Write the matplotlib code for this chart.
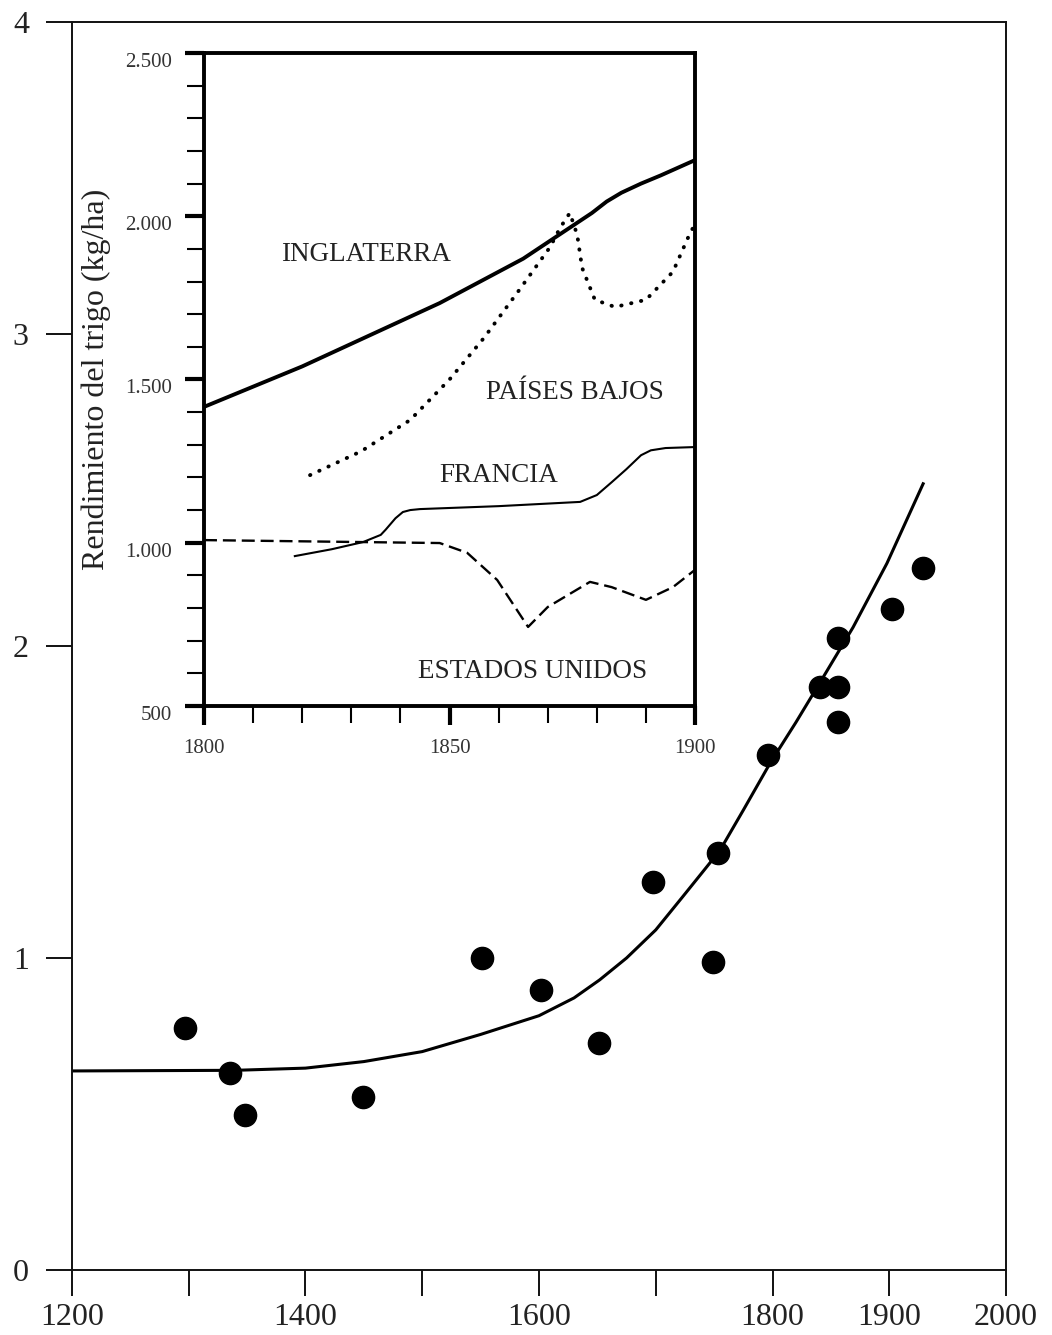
import matplotlib
matplotlib.use("Agg")
import matplotlib.pyplot as plt
import matplotlib.transforms as mtransforms
from matplotlib.ticker import MultipleLocator

plt.rcParams['font.family'] = ['Liberation Serif', 'DejaVu Serif']

# main chart: yield ratio over the centuries
point_years = [1297, 1335, 1348, 1449, 1551, 1602, 1651, 1698, 1749, 1753,
               1796, 1841, 1856, 1856, 1856, 1902, 1929]
point_values = [0.776, 0.631, 0.497, 0.555, 1.0, 0.897, 0.728, 1.244, 0.987, 1.336,
                1.65, 1.87, 1.87, 2.026, 1.756, 2.12, 2.25]
trend_years = [1200, 1340, 1400, 1450, 1500, 1550, 1600, 1630, 1652, 1675,
               1700, 1723, 1740, 1755, 1775, 1798, 1820, 1841, 1869, 1898, 1929]
trend_values = [0.638, 0.640, 0.647, 0.668, 0.70, 0.755, 0.815, 0.872, 0.93, 1.0,
                1.09, 1.196, 1.275, 1.345, 1.474, 1.625, 1.755, 1.885, 2.06, 2.265, 2.52]
main_xticks = [1200, 1300, 1400, 1500, 1600, 1700, 1800, 1900, 2000]
main_xlabels = ['1200', '', '1400', '', '1600', '', '1800', '1900', '2000']

# inset: wheat yield kg/ha 1800-1900
eng_years = [1800, 1820, 1848, 1865, 1879, 1882, 1885, 1889, 1893, 1900]
eng_vals = [1416, 1540, 1734, 1870, 2010, 2045, 2072, 2100, 2125, 2172]
nl_years = [1821.6, 1832, 1842, 1850, 1857, 1864, 1870.5, 1872.5, 1874.5, 1876,
            1877, 1879.6, 1883.7, 1890, 1895.5, 1899, 1900]
nl_vals = [1207, 1280, 1376, 1500, 1627, 1770, 1906, 1964, 2010, 1943,
           1842, 1744, 1722, 1744, 1830, 1949, 1975]
fr_years = [1818.5, 1826, 1832.4, 1836, 1837, 1839, 1840.5, 1842, 1844, 1860,
            1876.6, 1880, 1883, 1886, 1889, 1891, 1894, 1900]
fr_vals = [959, 980, 1002, 1024, 1040, 1075, 1094, 1100, 1103, 1112,
           1125, 1146, 1185, 1225, 1268, 1283, 1290, 1293]
us_years = [1800, 1848, 1853.6, 1859.7, 1866, 1870, 1878.6, 1883, 1890, 1895.5, 1900]
us_vals = [1008, 999, 969, 886, 742, 803, 880, 864, 825, 864, 917]

fig = plt.figure(figsize=(10.52, 13.35), dpi=100)

ax = fig.add_axes([0.0684, 0.0487, 0.8879, 0.9348])
ax.plot(trend_years, trend_values, color='black', lw=2.2)
ax.plot(point_years, point_values, 'o', color='black', ms=16, zorder=3)
ax.set_xlim(1200, 2000)
ax.set_ylim(0, 4)
ax.set_xticks(main_xticks)
ax.set_xticklabels(main_xlabels)
ax.set_yticks([0, 1, 2, 3, 4])
ax.set_yticklabels(['0', '1', '2', '3', '4'])
ax.tick_params(length=19, width=1.4, labelsize=23, color='#111111', labelcolor='#222222')
ax.tick_params(axis='x', pad=5)
ax.tick_params(axis='y', pad=12)
for s in ax.spines.values():
    s.set_linewidth(1.4)
    s.set_color('#111111')

# inset
ai = fig.add_axes([0.1939, 0.4712, 0.4668, 0.4891])
ai.plot(eng_years, eng_vals, color='black', lw=2.8, solid_capstyle='butt')
ai.plot(nl_years, nl_vals, color='black', lw=2.8, linestyle=(0, (0.1, 2.5)),
        dash_capstyle='round')
ai.plot(fr_years, fr_vals, color='black', lw=1.5)
ai.plot(us_years, us_vals, color='black', lw=1.7, linestyle=(0, (5.5, 2.5)))
ai.set_xlim(1800, 1900)
ai.set_ylim(500, 2500)
ai.set_xticks([1800, 1850, 1900])
ai.set_xticklabels(['1800', '1850', '1900'])
ai.set_yticks([500, 1000, 1500, 2000, 2500])
ai.set_yticklabels(['500', '1.000', '1.500', '2.000', '2.500'])
ai.xaxis.set_minor_locator(MultipleLocator(10))
ai.yaxis.set_minor_locator(MultipleLocator(100))
ai.tick_params(which='major', length=14, width=3, labelsize=15, pad=10,
               labelcolor='#333333')
ai.tick_params(which='minor', length=12, width=1.5)
ai.tick_params(axis='y', which='major', pad=9)
# labels sit a little below their ticks in the original
shift = mtransforms.ScaledTranslation(0, -5 / 72, fig.dpi_scale_trans)
for lbl in ai.get_yticklabels():
    lbl.set_transform(lbl.get_transform() + shift)
for s in ai.spines.values():
    s.set_linewidth(2.8)
ai.set_ylabel('Rendimiento del trigo (kg/ha)', fontsize=23, labelpad=10,
              color='#222222')

label_kw = dict(fontsize=19.5, color='#222222', ha='center', va='center')
ai.text(1833, 1882, 'INGLATERRA', **label_kw)
ai.text(1875.5, 1460, 'PAÍSES BAJOS', **label_kw)
ai.text(1860, 1206, 'FRANCIA', **label_kw)
ai.text(1867, 605, 'ESTADOS UNIDOS', **label_kw)

fig.savefig('out.png', dpi=100)
